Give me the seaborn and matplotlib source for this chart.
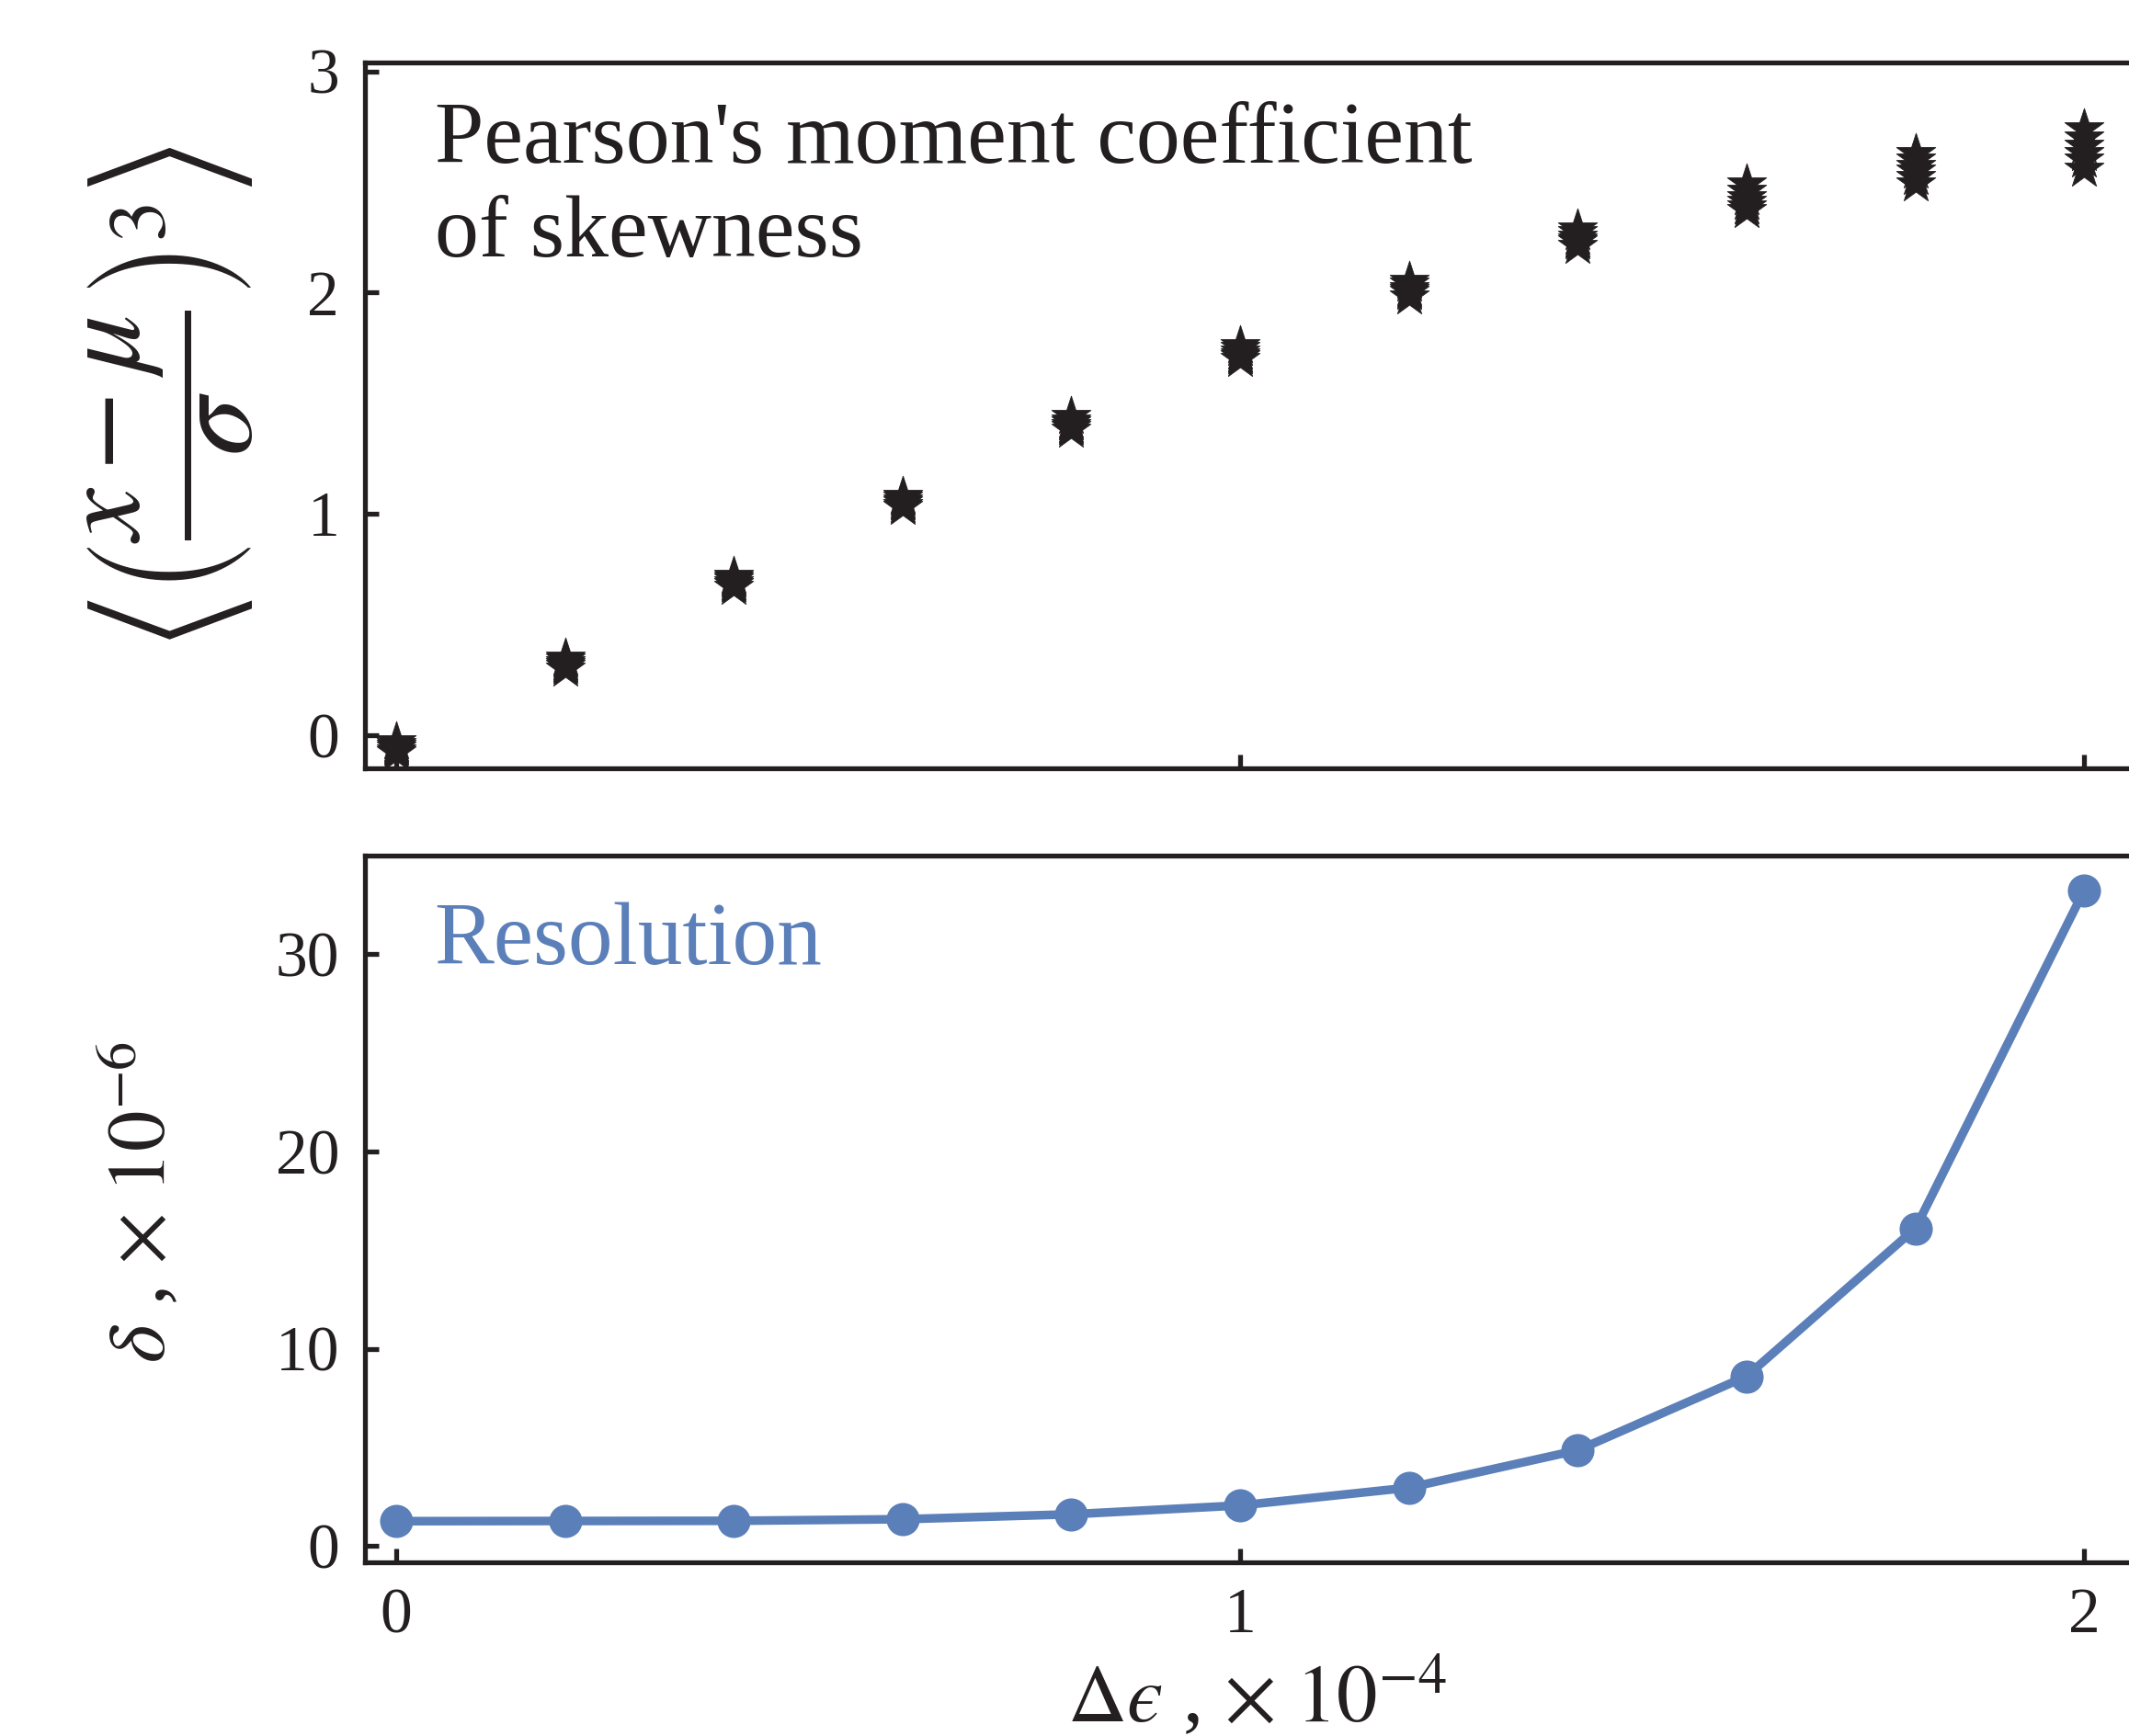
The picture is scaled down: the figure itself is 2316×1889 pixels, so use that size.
import numpy as np
import pandas as pd
import matplotlib
matplotlib.use("Agg")
import matplotlib.pyplot as plt
import seaborn as sns

# ---- data ----
delta_eps = [0.0, 0.2, 0.4, 0.6, 0.8, 1.0, 1.2, 1.4, 1.6, 1.8, 2.0]
# skewness samples (several runs per point)
skew_samples = [
    [-0.08, -0.07, -0.06, -0.05, -0.04, -0.03],
    [0.30, 0.31, 0.32, 0.33, 0.34, 0.35],
    [0.67, 0.68, 0.69, 0.70, 0.71, 0.72],
    [1.03, 1.04, 1.05, 1.06, 1.07, 1.08],
    [1.38, 1.39, 1.40, 1.41, 1.42, 1.44],
    [1.70, 1.71, 1.72, 1.73, 1.75, 1.76],
    [1.98, 2.00, 2.01, 2.02, 2.04, 2.05],
    [2.21, 2.23, 2.24, 2.25, 2.27, 2.29],
    [2.37, 2.39, 2.41, 2.43, 2.46, 2.49],
    [2.49, 2.52, 2.55, 2.57, 2.60, 2.63],
    [2.56, 2.60, 2.63, 2.66, 2.70, 2.74],
]
resolution = [1.25, 1.26, 1.27, 1.35, 1.6, 2.05, 2.95, 4.85, 8.6, 16.1, 33.25]

x_ticks = [0, 1, 2]
top_yticks = [0, 1, 2, 3]
bot_yticks = [0, 10, 20, 30]

skew_df = pd.DataFrame(
    [(x, v) for x, vals in zip(delta_eps, skew_samples) for v in vals],
    columns=["de", "skew"],
)
res_df = pd.DataFrame({"de": delta_eps, "res": resolution})

# ---- style ----
sns.set_theme(style="ticks")
plt.rcParams["font.family"] = ["Liberation Serif", "DejaVu Serif"]
plt.rcParams["mathtext.fontset"] = "stix"

ink = "#231f20"
blue = "#5b7fb8"
spine_w = 1.9

fig = plt.figure(figsize=(11.58, 9.445), dpi=200)
ax1 = fig.add_axes([0.1714, 0.5574, 0.8385, 0.4066])
ax2 = fig.add_axes([0.1714, 0.1000, 0.8385, 0.4071])

sns.scatterplot(data=skew_df, x="de", y="skew", ax=ax1, marker="*", s=260,
                color=ink, edgecolor=ink, linewidth=0.3, legend=False, zorder=3)
sns.lineplot(data=res_df, x="de", y="res", ax=ax2, color=blue, linewidth=3.4,
             marker="o", markersize=13, markeredgewidth=0, zorder=3)

for ax in (ax1, ax2):
    ax.set_xlim(-0.037, 2.078)
    ax.set_xticks(x_ticks)
    for sp in ax.spines.values():
        sp.set_linewidth(spine_w)
        sp.set_color(ink)
    ax.tick_params(direction="in", length=5.5, width=spine_w, color=ink,
                   labelsize=25, labelcolor=ink, pad=10,
                   top=False, right=False)
    ax.set_xlabel("")
    ax.set_ylabel("")

ax1.set_ylim(-0.15, 3.04)
ax1.set_yticks(top_yticks)
ax1.set_xticklabels([])
ax2.set_ylim(-0.84, 35)
ax2.set_yticks(bot_yticks)
ax2.set_xticklabels([str(t) for t in x_ticks])

ax1.text(0.039, 0.945, "Pearson's moment coefficient\nof skewness",
         transform=ax1.transAxes, ha="left", va="top", fontsize=34.5,
         color=ink, linespacing=1.24)
ax2.text(0.039, 0.935, "Resolution", transform=ax2.transAxes, ha="left",
         va="top", fontsize=35, color=blue)

ax1.set_ylabel(r"$\left\langle\left(\dfrac{x-\mu}{\sigma}\right)^{3}\right\rangle$",
               fontsize=46, color=ink)
ax1.yaxis.set_label_coords(-0.062, 0.526)
ax2.set_ylabel("$\\delta$ , $\\times\\ 10^{-6}$", fontsize=32, color=ink)
ax2.yaxis.set_label_coords(-0.102, 0.51)
ax2.set_xlabel("$\\Delta\u03f5$ , $\\times\\ 10^{-4}$", fontsize=32, color=ink)
ax2.xaxis.set_label_coords(0.5, -0.13)

fig.savefig("out.png", dpi=200)
